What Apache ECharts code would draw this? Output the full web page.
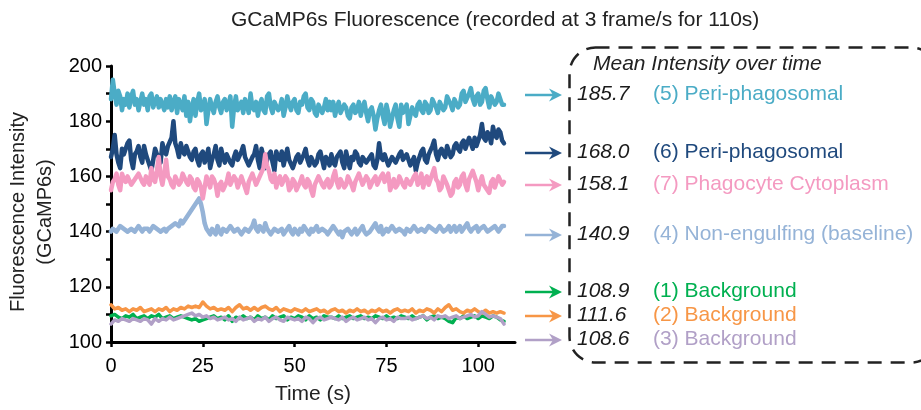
<!DOCTYPE html>
<html>
<head>
<meta charset="utf-8">
<script src="https://cdn.jsdelivr.net/npm/echarts@6/dist/echarts.min.js"></script>
<style>html,body{margin:0;padding:0;background:#fff}#c{width:921px;height:410px}</style>
</head>
<body>
<div id="c"></div>
<script>
// sample times (s)
const timesFine = [0,0.5,1,1.5,2,2.5,3,3.5,4,4.5,5,5.5,6,6.5,7,7.5,8,8.5,9,9.5,10,10.5,11,11.5,12,12.5,13,13.5,14,14.5,15,15.5,16,16.5,17,17.5,18,18.5,19,19.5,20,20.5,21,21.5,22,22.5,23,23.5,24,24.5,25,25.5,26,26.5,27,27.5,28,28.5,29,29.5,30,30.5,31,31.5,32,32.5,33,33.5,34,34.5,35,35.5,36,36.5,37,37.5,38,38.5,39,39.5,40,40.5,41,41.5,42,42.5,43,43.5,44,44.5,45,45.5,46,46.5,47,47.5,48,48.5,49,49.5,50,50.5,51,51.5,52,52.5,53,53.5,54,54.5,55,55.5,56,56.5,57,57.5,58,58.5,59,59.5,60,60.5,61,61.5,62,62.5,63,63.5,64,64.5,65,65.5,66,66.5,67,67.5,68,68.5,69,69.5,70,70.5,71,71.5,72,72.5,73,73.5,74,74.5,75,75.5,76,76.5,77,77.5,78,78.5,79,79.5,80,80.5,81,81.5,82,82.5,83,83.5,84,84.5,85,85.5,86,86.5,87,87.5,88,88.5,89,89.5,90,90.5,91,91.5,92,92.5,93,93.5,94,94.5,95,95.5,96,96.5,97,97.5,98,98.5,99,99.5,100,100.5,101,101.5,102,102.5,103,103.5,104,104.5,105,105.5,106,106.5,107];
const timesCoarse = [0,1,2,3,4,5,6,7,8,9,10,11,12,13,14,15,16,17,18,19,20,21,22,23,24,25,26,27,28,29,30,31,32,33,34,35,36,37,38,39,40,41,42,43,44,45,46,47,48,49,50,51,52,53,54,55,56,57,58,59,60,61,62,63,64,65,66,67,68,69,70,71,72,73,74,75,76,77,78,79,80,81,82,83,84,85,86,87,88,89,90,91,92,93,94,95,96,97,98,99,100,101,102,103,104,105,106,107];

// (5) Peri-phagosomal
const s5 = [188,195,190,186,191,189,184,188,186,190, 185,189,191,186,188,184,187,190,186,188,
  184,189,190,185,187,189,185,188,186,184, 188,185,189,184,187,189,183,188,186,184,
  189,182,187,180,185,188,182,187,190,184, 185,188,179,184,188,185,183,187,189,185,
  183,187,188,184,186,189,178,185,189,184, 184,187,183,188,186,183,190,185,184,187,
  182,186,188,184,183,189,190,185,183,187, 187,184,185,188,182,185,189,186,184,187,
  188,184,183,187,186,189,190,185,184,188, 187,183,182,186,186,183,185,188,184,187,
  184,187,182,185,187,183,183,186,185,182, 181,185,186,183,184,187,182,185,187,183,
  180,184,185,182,177,181,184,186,182,179, 186,183,178,181,184,186,181,178,186,183,
  183,186,179,182,185,183,182,186,187,184, 183,187,186,183,184,188,188,185,183,187,
  187,184,185,189,189,186,184,188,188,185, 186,190,191,187,187,190,192,188,186,189,
  190,186,187,191,192,188,185,189,189,186, 187,190,190,186,186];
// (6) Peri-phagosomal
const s6 = [167,170,175,168,165,163,170,168,168,172, 173,166,163,168,169,171,167,165,171,168,
  166,164,162,166,170,168,167,165,172,169, 168,171,171,174,180,172,170,167,172,169,
  168,171,171,167,166,169,170,166,164,168, 169,165,167,170,163,166,168,171,166,164,
  170,167,165,168,168,165,164,167,169,166, 166,169,171,167,167,164,164,167,168,171,
  166,163,170,167,163,166,168,169,165,162, 169,167,166,169,164,167,170,166,166,163,
  163,167,168,165,165,168,170,166,164,167, 167,164,165,168,169,166,163,167,166,164,
  168,165,164,167,167,169,165,163,169,166, 163,167,166,169,168,165,164,167,167,165,
  165,167,168,164,163,166,172,167,166,168, 168,164,164,167,167,165,165,168,169,166,
  166,168,168,164,164,167,162,165,167,169, 170,166,165,168,168,171,173,168,166,169,
  170,168,167,171,171,167,168,171,172,170, 169,172,173,170,170,174,172,170,174,171,
  171,175,179,174,173,176,175,172,178,175, 174,177,176,173,172];
// (7) Phagocyte Cytoplasm
const s7 = [155,158,159,161,157,155,161,159,158,160, 160,157,157,159,159,161,161,158,157,160,
  160,157,163,159,158,162,167,160,157,161, 166,160,159,157,156,160,160,157,158,161,
  161,158,157,160,159,156,155,159,158,156, 152,156,160,158,156,160,159,157,153,157,
  158,155,155,158,161,157,157,160,159,156, 156,160,160,156,154,158,158,161,161,157,
  157,160,160,163,168,164,162,159,158,161, 156,159,160,157,157,160,159,155,156,159,
  158,155,155,158,160,157,156,159,158,155, 153,157,157,160,160,157,156,158,159,156,
  157,160,162,158,156,159,159,156,157,160, 160,157,155,158,158,161,161,157,157,160,
  159,156,156,159,160,157,157,160,161,158, 158,161,155,157,159,156,157,160,160,157,
  156,159,159,157,157,160,161,157,158,161, 156,159,160,157,157,161,163,159,158,155,
  156,160,160,157,157,153,154,158,159,156, 157,160,161,157,155,159,159,162,162,158,
  155,158,160,157,157,155,154,158,159,156, 156,160,160,157,158];
// (4) Non-engulfing (baseline)
const s4 = [140,141,141,140,140,142,142,141,141,140, 140,141,141,140,140,142,142,140,141,141,
  141,140,140,142,142,141,141,140,140,141, 140,141,141,142,142,143,143,142,144,143,
  143,145,146,147,148,149,150,151,152,150, 147,143,141,140,139,141,140,139,142,140,
  139,141,141,140,140,142,142,140,140,141, 141,139,139,141,141,140,140,142,144,141,
  140,142,141,140,143,141,140,139,139,141, 141,140,140,141,139,140,141,142,140,139,
  141,140,139,141,140,142,141,140,139,141, 140,141,142,140,140,141,141,140,139,140,
  140,142,141,140,139,140,138,140,140,141, 141,139,140,141,139,140,141,142,140,139,
  139,140,141,142,143,141,140,142,139,140, 141,140,140,142,142,140,140,141,141,140,
  139,141,141,140,140,142,142,140,140,141, 141,140,140,142,142,141,141,140,140,142,
  141,140,140,141,142,140,141,142,140,141, 142,140,141,142,143,141,140,141,141,142,
  140,141,141,142,142,140,140,141,141,142, 141,140,140,142,142];
// (1) Background
const s1 = [109.5,110,109,108.5,109.5,109,110,108.5,109,109.5, 108.5,109.5,109,110,108.5,109,109.5,108.5,109,109.5, 109,108.5,108,108.5,107.5,108,108.5,109,109.5,108.5, 109,108,109.5,107.5,109,108.5,109.5,108.5,109,108, 109.5,108.5,109,108,109.5,108.5,109,109.5,108,109, 108.5,109.5,109,108,109.5,108.5,109,108,109.5,109, 109,108.5,109.5,108.5,109,109.5,108.5,109,109.5,108.5, 109,108.5,109.5,109,108.5,109.5,108.5,109,108.5,109.5, 109,108.5,109.5,108.5,109,109.5,108,109,109.5,108.5, 109,108.5,107.5,107,109,108.5,109.5,108.5,109,109.5, 108.5,109.5,109,108.5,109.5,109,108,107.5];
// (2) Background
const s2 = [113.5,112,112.5,111.5,112,111,112,111.5,112.5,111, 111.5,112,111,112,111.5,112.5,111,112,111.5,112.5, 112,113,112.5,113,112.5,114.5,113,112,112.5,111.5, 112,111.5,112.5,111,112.5,113.5,112,112.5,111.5,112.5, 111.5,112.5,113,112,111.5,112.5,111,112,111.5,111, 112,111.5,111,112,111,111.5,112,111,111.5,110.5, 111.5,112,111,111.5,110.5,111.5,111,112,111,111.5, 110.5,111.5,111,112,111,111.5,110.5,111.5,112,111, 111.5,111,112,110.5,111.5,111,112,111.5,110.5,112, 111,112.5,113.5,111.5,112,111,110.5,111.5,111,112, 111,110.5,111.5,110.5,111,110.5,111,110.5];
// (3) Background
const s3 = [106.5,108,107.5,108.5,108,107.5,108.5,108,107.5,108.5, 108,106.5,108.5,107.5,108.5,108,109,108,108.5,109, 109.5,110,110.5,109.5,110,109,109.5,108.5,109,108, 108.5,109,108,108.5,107.5,109,108,108.5,109,107.5, 108.5,108,109,107.5,108.5,109,108,107.5,109,108.5, 108,108.5,107.5,109,108.5,107,108.5,109,108,108.5, 109,108.5,108,109,107.5,108.5,109,108,108.5,109, 108,108.5,107,108.5,109,108,108.5,107.5,109,108.5, 108.5,109,108,108.5,109,109.5,108.5,109,108,109.5, 109,109.5,108.5,109,109.5,108.5,109,109.5,110,109, 109.5,111,110,109,109.5,109,108.5,106.5];

const seriesNames = ['(1) Background','(2) Background','(3) Background','(4) Non-engulfing (baseline)','(5) Peri-phagosomal','(6) Peri-phagosomal','(7) Phagocyte Cytoplasm'];
const seriesValues = [s1, s2, s3, s4, s5, s6, s7];
const seriesTimes = [timesCoarse, timesCoarse, timesCoarse, timesFine, timesFine, timesFine, timesFine];
const colors = ['#00b050','#f79646','#b1a0c7','#95b3d7','#4bacc6','#1f497d','#f49ac1'];
const meanValues = ['108.9','111.6','108.6','140.9','185.7','168.0','158.1'];
const xTickValues = [0,25,50,75,100];
const yLabelValues = [100,120,140,160,180,200];

// legend row order & vertical placement (layout only)
const rowOrder = [4,5,6,3,0,1,2];
const rowY = [95,153,185,235,292,316,340];

const FONT = '"Liberation Sans", Arial, sans-serif';

const series = seriesValues.map((vals, i) => ({
  name: seriesNames[i],
  type: 'line',
  data: seriesTimes[i].map((t, k) => [t, vals[k]]),
  symbol: 'none',
  lineStyle: { width: i < 3 ? 3.5 : 4.5, color: colors[i], join: 'round', cap: 'round' },
  itemStyle: { color: colors[i] },
  z: 2 + i
}));

const graphics = [];
graphics.push({
  type: 'rect', left: 567, top: 45,
  shape: { x: 0, y: 0, width: 368, height: 315, r: 26 },
  style: { fill: 'none', stroke: '#222', lineWidth: 2.5, lineDash: [14, 9] }
});
graphics.push({
  type: 'text', left: 593, top: 54,
  style: { text: 'Mean Intensity over time', font: 'italic 21px ' + FONT, fill: '#222' }
});
rowOrder.forEach((si, r) => {
  const y = rowY[r];
  graphics.push({ type: 'line', shape: { x1: 525, y1: y, x2: 556, y2: y }, style: { stroke: colors[si], lineWidth: 2.5 } });
  graphics.push({ type: 'polygon', shape: { points: [[562, y], [549, y - 6.5], [553, y], [549, y + 6.5]] }, style: { fill: colors[si] } });
  graphics.push({ type: 'text', left: 577, top: y - 11, style: { text: meanValues[si], font: 'italic 21px ' + FONT, fill: '#1a1a1a' } });
  graphics.push({ type: 'text', left: 653, top: y - 11, style: { text: seriesNames[si], font: '21px ' + FONT, fill: colors[si] } });
});

const chart = echarts.init(document.getElementById('c'), null, { renderer: 'canvas' });
chart.setOption({
  animation: false,
  backgroundColor: '#fff',
  title: {
    text: 'GCaMP6s Fluorescence (recorded at 3 frame/s for 110s)',
    left: 226, top: 5,
    textStyle: { fontFamily: FONT, fontSize: 21, fontWeight: 'normal', color: '#222' }
  },
  grid: { left: 111, right: 406, top: 66, bottom: 64, containLabel: false },
  xAxis: {
    type: 'value', min: 0, max: 110,
    name: 'Time (s)', nameLocation: 'middle', nameGap: 42,
    nameTextStyle: { fontFamily: FONT, fontSize: 21, color: '#222' },
    axisLine: { show: true, onZero: false, lineStyle: { color: '#000', width: 3 } },
    axisTick: { show: true, length: 5, customValues: xTickValues, lineStyle: { color: '#000', width: 2.5 } },
    axisLabel: { customValues: xTickValues, fontFamily: FONT, fontSize: 20, color: '#000', margin: 14 },
    splitLine: { show: false }
  },
  yAxis: {
    type: 'value', min: 100, max: 200, interval: 10,
    name: 'Fluorescence Intensity\n(GCaMP6s)', nameLocation: 'middle', nameGap: 52, nameRotate: 90,
    nameTextStyle: { fontFamily: FONT, fontSize: 20, color: '#222', lineHeight: 27, align: 'center', padding: [0, 16, 0, 0] },
    axisLine: { show: true, onZero: false, lineStyle: { color: '#000', width: 3 } },
    axisTick: { show: true, length: 5, lineStyle: { color: '#000', width: 2.5 } },
    axisLabel: { customValues: yLabelValues, fontFamily: FONT, fontSize: 20, color: '#000', margin: 9 },
    splitLine: { show: false }
  },
  series: series,
  graphic: graphics
});
</script>
</body>
</html>
